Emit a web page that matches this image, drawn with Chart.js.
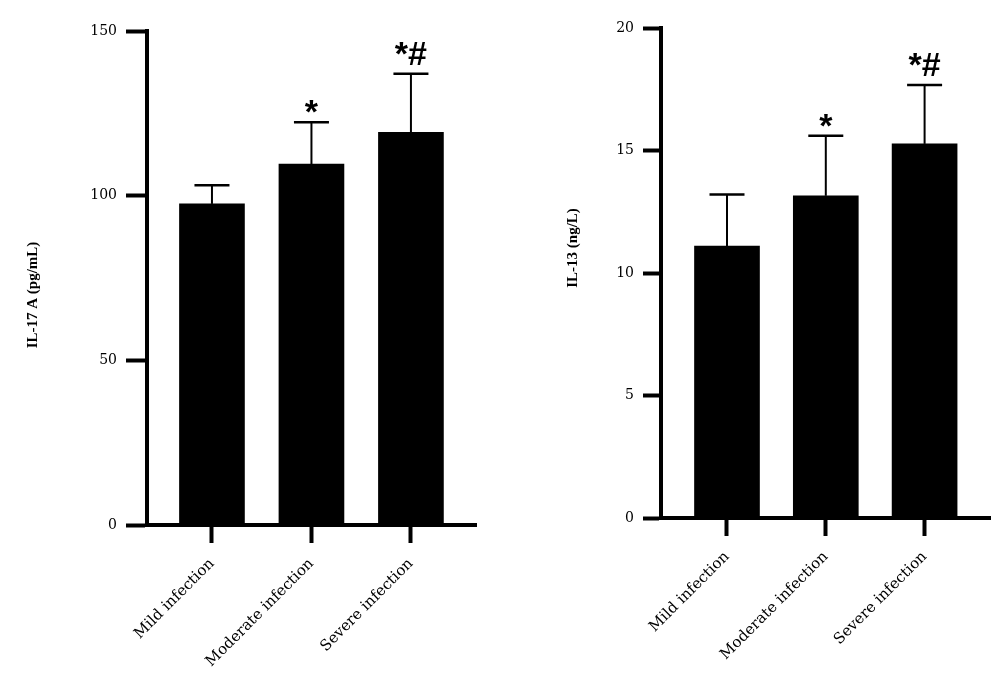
<!DOCTYPE html>
<html>
<head>
<meta charset="utf-8">
<script src="https://cdn.jsdelivr.net/npm/chart.js@4/dist/chart.umd.min.js"></script>
<style>
  body { margin: 0; background: #fff; }
  .wrap { position: absolute; top: 0; width: 500px; height: 680px; }
</style>
</head>
<body>
<div class="wrap" style="left:0"><canvas id="il17" width="500" height="680"></canvas></div>
<div class="wrap" style="left:500px"><canvas id="il13" width="500" height="680"></canvas></div>
<script>
const groups = ['Mild infection', 'Moderate infection', 'Severe infection'];

const il17Mean = [97.5, 109.6, 119.2];
const il17Sd = [5.7, 12.7, 17.8];

const il13Mean = [11.1, 13.15, 15.27];
const il13Sd = [2.1, 2.45, 2.4];

const marks = ['', '*', '*#'];

const labelFont = 'DejaVu Serif';

// error bars + significance marks drawn over the bars
const errorBars = {
  id: 'errorBars',
  afterDatasetsDraw(chart, args, opts) {
    const ctx = chart.ctx;
    const y = chart.scales.y;
    const meta = chart.getDatasetMeta(0);
    ctx.save();
    ctx.strokeStyle = '#000';
    meta.data.forEach((bar, i) => {
      const top = y.getPixelForValue(opts.mean[i] + opts.sd[i]);
      ctx.lineWidth = 2;
      ctx.beginPath();
      ctx.moveTo(bar.x, bar.y);
      ctx.lineTo(bar.x, top);
      ctx.stroke();
      ctx.lineWidth = 2.5;
      ctx.beginPath();
      ctx.moveTo(bar.x - 17.5, top);
      ctx.lineTo(bar.x + 17.5, top);
      ctx.stroke();

      const m = opts.marks[i];
      if (m) {
        ctx.font = 'bold 34px "Liberation Sans"';
        ctx.fillStyle = '#000';
        ctx.textAlign = 'center';
        ctx.textBaseline = 'alphabetic';
        const desc = ctx.measureText(m).actualBoundingBoxDescent;
        ctx.fillText(m, bar.x, top - 9 - desc);
      }
    });
    ctx.restore();
  }
};

// rotated y title placed like the original figure
const sideTitle = {
  id: 'sideTitle',
  afterDraw(chart, args, opts) {
    const ctx = chart.ctx;
    ctx.save();
    ctx.translate(opts.x, opts.y);
    ctx.rotate(-Math.PI / 2);
    ctx.font = 'bold 15px "Liberation Serif"';
    ctx.fillStyle = '#000';
    ctx.textAlign = 'center';
    ctx.textBaseline = 'middle';
    ctx.fillText(opts.text, 0, 0);
    ctx.restore();
  }
};

function makeChart(id, mean, sd, cfg) {
  return new Chart(document.getElementById(id), {
    type: 'bar',
    data: {
      datasets: [{
        data: mean.map((v, i) => ({ x: i, y: v })),
        backgroundColor: '#000',
        borderWidth: 0,
        barThickness: 65
      }]
    },
    options: {
      responsive: false,
      animation: false,
      layout: { padding: { left: cfg.padLeft, right: cfg.padRight, top: cfg.top, bottom: 0 } },
      plugins: {
        legend: { display: false },
        tooltip: { enabled: false },
        errorBars: { mean: mean, sd: sd, marks: marks },
        sideTitle: { text: cfg.title, x: cfg.titleX, y: cfg.titleY }
      },
      scales: {
        x: {
          type: 'linear',
          offset: false,
          min: cfg.xMin,
          max: cfg.xMax,
          afterBuildTicks: (s) => { s.ticks = groups.map((g, i) => ({ value: i })); },
          afterFit: (s) => { s.height = 680 - cfg.bottom; },
          ticks: {
            callback: (v) => groups[v],
            maxRotation: 45,
            minRotation: 45,
            padding: 12,
            color: '#000',
            font: { family: labelFont, size: 15 }
          },
          grid: {
            offset: false,
            drawOnChartArea: false,
            tickLength: 18,
            tickWidth: 4,
            tickColor: '#000'
          },
          border: { color: '#000', width: 4 }
        },
        y: {
          min: 0,
          max: cfg.yMax,
          afterFit: (s) => { s.width = cfg.axisX - cfg.padLeft; },
          ticks: {
            stepSize: cfg.step,
            padding: 9,
            color: '#000',
            font: { family: labelFont, size: 14 }
          },
          grid: {
            drawOnChartArea: false,
            tickLength: cfg.tick,
            tickWidth: 4,
            tickColor: '#000'
          },
          border: { color: '#000', width: 4 }
        }
      }
    },
    plugins: [errorBars, sideTitle]
  });
}

makeChart('il17', il17Mean, il17Sd, {
  title: 'IL-17 A (pg/mL)', titleX: 33, titleY: 295,
  padLeft: 50, padRight: 24, top: 31, bottom: 525, axisX: 147,
  xMin: -0.653, xMax: 2.654, yMax: 150, step: 50, tick: 21
});

makeChart('il13', il13Mean, il13Sd, {
  title: 'IL-13 (ng/L)', titleX: 73, titleY: 248,
  padLeft: 50, padRight: 10, top: 28, bottom: 518, axisX: 161,
  xMin: -0.668, xMax: 2.662, yMax: 20, step: 5, tick: 18
});
</script>
</body>
</html>
